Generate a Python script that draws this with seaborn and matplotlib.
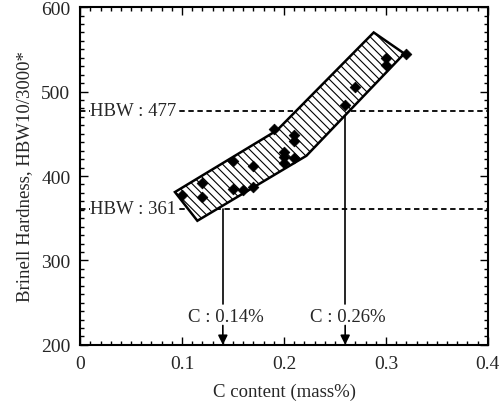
import matplotlib
matplotlib.use('Agg')
import matplotlib.pyplot as plt
import seaborn as sns
import numpy as np
from matplotlib.ticker import MultipleLocator

sns.set_style('ticks')
plt.rcParams['font.family'] = ['Liberation Serif', 'DejaVu Serif']
plt.rcParams['hatch.linewidth'] = 0.8

mTickSize = 14
mLabelSize = 13.5

# measured points (C mass%, HBW)
c_pts = [0.10, 0.12, 0.12, 0.15, 0.15, 0.16, 0.17, 0.17, 0.19, 0.20, 0.20, 0.20,
         0.21, 0.21, 0.21, 0.26, 0.27, 0.30, 0.30, 0.32]
hb_pts = [378, 392, 375, 418, 385, 383, 387, 412, 456, 428, 422, 416,
          448, 442, 421, 484, 505, 540, 532, 545]

# scatter band outline
band_c = [0.093, 0.193, 0.288, 0.318, 0.222, 0.115]
band_hb = [381, 454, 570, 545, 424, 347]

hbw_levels = [477, 361]
hbw_labels = ['HBW : 477', 'HBW : 361']
c_limits = [0.26, 0.14]
c_labels = ['C : 0.26%', 'C : 0.14%']

fig = plt.figure(figsize=(5.04, 4.06), dpi=100)
ax = fig.add_axes([0.159, 0.148, 0.809, 0.832])

ax.fill(band_c, band_hb, facecolor='white', edgecolor='black', linewidth=1.8,
        hatch='\\' * 4, zorder=2)

sns.scatterplot(x=c_pts, y=hb_pts, marker='D', s=30, color='black',
                edgecolor='black', linewidth=0.5, ax=ax, zorder=3)

for lvl, lab, c, clab in zip(hbw_levels, hbw_labels, c_limits, c_labels):
    ax.axhline(lvl, color='black', linestyle=(0, (3, 2)), linewidth=1.3, zorder=1)
    ax.text(0.01, lvl, lab, fontsize=mLabelSize, va='center', ha='left',
            bbox=dict(facecolor='white', edgecolor='none', pad=0.5), zorder=4)
    ax.plot([c, c], [lvl, 249], color='black', linewidth=1.2, zorder=1)
    ax.text(c + 0.003, 234, clab, fontsize=mLabelSize, ha='center', va='center')
    ax.annotate('', xy=(c, 200), xytext=(c, 223),
                arrowprops=dict(arrowstyle='-|>', color='black', lw=1.2,
                                mutation_scale=14, shrinkA=0, shrinkB=0))

ax.set_xlim(0, 0.4)
ax.set_ylim(200, 600)
ax.set_xticks([0, 0.1, 0.2, 0.3, 0.4])
ax.set_xticklabels(['0', '0.1', '0.2', '0.3', '0.4'])
ax.xaxis.set_minor_locator(MultipleLocator(0.01))
ax.yaxis.set_major_locator(MultipleLocator(100))
ax.yaxis.set_minor_locator(MultipleLocator(10))

ax.tick_params(which='both', direction='in', top=True, right=True,
               labelsize=mTickSize, color='black', width=1.0)
ax.tick_params(which='major', length=6, pad=7)
ax.tick_params(which='minor', length=3)
for sp in ax.spines.values():
    sp.set_linewidth(1.5)
    sp.set_color('black')

ax.set_xlabel('C content (mass%)', fontsize=mLabelSize, labelpad=8)
ax.set_ylabel('Brinell Hardness, HBW10/3000*', fontsize=mLabelSize, labelpad=6)

plt.savefig('out.png', dpi=100)
